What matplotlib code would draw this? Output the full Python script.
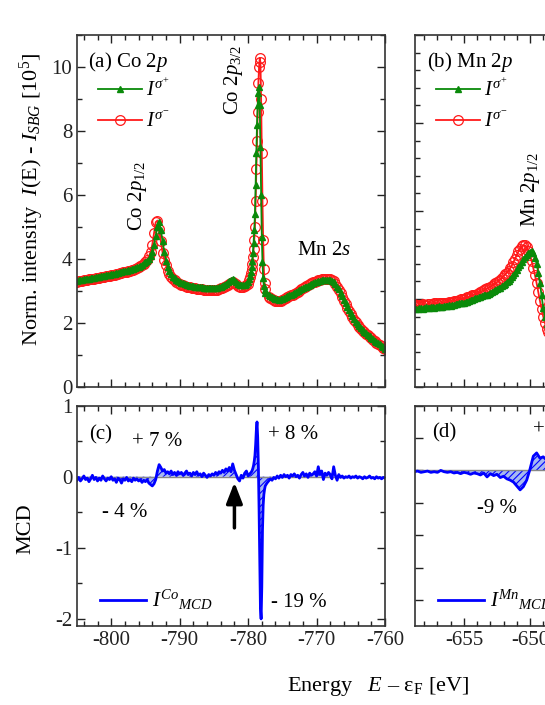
import numpy as np
import matplotlib
matplotlib.use("Agg")
from matplotlib import pyplot as plt
from matplotlib.ticker import MultipleLocator

plt.rcParams['font.family'] = ['Liberation Serif', 'DejaVu Serif']
plt.rcParams['mathtext.fontset'] = 'custom'
plt.rcParams['mathtext.rm'] = 'Liberation Serif'
plt.rcParams['mathtext.it'] = 'Liberation Serif:italic'
plt.rcParams['axes.unicode_minus'] = False
plt.rcParams['hatch.linewidth'] = 0.8

# ---- Co 2p spectra, panel (a) ----
e_co = np.concatenate([np.linspace(-805, -780, 101),
                       np.linspace(-779.8, -777.5, 24),
                       np.linspace(-777, -760, 69)])
co_plus = [3.32, 3.33, 3.34, 3.35, 3.36, 3.37, 3.38, 3.39, 3.40, 3.41,
           3.42, 3.43, 3.44, 3.45, 3.46, 3.47, 3.48, 3.49, 3.50, 3.51,
           3.52, 3.53, 3.54, 3.56, 3.57, 3.58, 3.59, 3.61, 3.62, 3.63,
           3.65, 3.66, 3.68, 3.70, 3.72, 3.74, 3.76, 3.79, 3.82, 3.86,
           3.90, 3.94, 4.00, 4.08, 4.22, 4.45, 4.72, 5.00, 5.15, 4.90,
           4.55, 4.22, 3.95, 3.76, 3.62, 3.52, 3.45, 3.40, 3.35, 3.31,
           3.28, 3.26, 3.24, 3.22, 3.20, 3.18, 3.17, 3.16, 3.15, 3.14,
           3.13, 3.12, 3.12, 3.11, 3.10, 3.09, 3.09, 3.08, 3.08, 3.08,
           3.08, 3.09, 3.10, 3.12, 3.14, 3.17, 3.20, 3.23, 3.27, 3.31,
           3.35, 3.37, 3.33, 3.27, 3.22, 3.19, 3.18, 3.19, 3.20, 3.23,
           3.27,
           3.38, 3.48, 3.60, 3.75, 3.95, 4.20, 4.50, 4.90, 5.40, 6.30,
           7.30, 8.20, 8.80, 9.20, 9.38, 8.80, 7.50, 6.00, 4.70, 3.90,
           3.40, 3.15, 3.02, 2.95,
           2.87, 2.83, 2.80, 2.77, 2.75, 2.74, 2.73, 2.74, 2.76, 2.78,
           2.81, 2.83, 2.86, 2.88, 2.91, 2.93, 2.96, 2.99, 3.02, 3.05,
           3.08, 3.11, 3.14, 3.17, 3.20, 3.23, 3.25, 3.27, 3.29, 3.31,
           3.32, 3.33, 3.34, 3.35, 3.35, 3.35, 3.34, 3.32, 3.28, 3.22,
           3.14, 3.05, 2.94, 2.83, 2.72, 2.61, 2.50, 2.40, 2.30, 2.21,
           2.12, 2.04, 1.97, 1.90, 1.84, 1.78, 1.73, 1.68, 1.63, 1.58,
           1.54, 1.49, 1.45, 1.41, 1.37, 1.33, 1.29, 1.25, 1.20]
co_minus = [3.29, 3.30, 3.31, 3.32, 3.33, 3.34, 3.35, 3.36, 3.37, 3.38,
            3.39, 3.40, 3.41, 3.42, 3.43, 3.44, 3.45, 3.46, 3.47, 3.48,
            3.49, 3.50, 3.51, 3.53, 3.54, 3.55, 3.56, 3.58, 3.59, 3.60,
            3.62, 3.63, 3.65, 3.67, 3.69, 3.71, 3.74, 3.77, 3.80, 3.85,
            3.90, 3.98, 4.08, 4.22, 4.45, 4.80, 5.15, 5.20, 4.95, 4.55,
            4.20, 3.98, 3.80, 3.64, 3.52, 3.44, 3.38, 3.33, 3.28, 3.25,
            3.22, 3.20, 3.18, 3.16, 3.14, 3.12, 3.11, 3.10, 3.09, 3.08,
            3.07, 3.06, 3.06, 3.05, 3.04, 3.03, 3.03, 3.02, 3.02, 3.02,
            3.02, 3.03, 3.04, 3.06, 3.08, 3.10, 3.13, 3.16, 3.19, 3.23,
            3.26, 3.29, 3.26, 3.21, 3.17, 3.14, 3.13, 3.14, 3.15, 3.18,
            3.22,
            3.33, 3.43, 3.55, 3.68, 3.85, 4.05, 4.30, 4.60, 5.00, 5.80,
            6.80, 7.70, 8.60, 9.50, 10.00, 10.28, 10.15, 9.00, 7.30, 5.80,
            4.60, 3.70, 3.25, 3.05,
            2.82, 2.78, 2.74, 2.71, 2.69, 2.68, 2.68, 2.69, 2.71, 2.74,
            2.77, 2.80, 2.83, 2.86, 2.89, 2.92, 2.95, 2.98, 3.01, 3.05,
            3.08, 3.12, 3.15, 3.18, 3.21, 3.24, 3.27, 3.29, 3.31, 3.33,
            3.35, 3.36, 3.37, 3.38, 3.38, 3.37, 3.36, 3.34, 3.30, 3.23,
            3.14, 3.04, 2.93, 2.81, 2.70, 2.59, 2.48, 2.38, 2.28, 2.19,
            2.10, 2.02, 1.95, 1.88, 1.82, 1.76, 1.71, 1.66, 1.61, 1.56,
            1.52, 1.47, 1.43, 1.39, 1.35, 1.31, 1.27, 1.23, 1.18]

# ---- Mn 2p spectra, panel (b) ----
e_mn = np.linspace(-659, -648.5, 85)
mn_plus = [0.90, 0.91, 0.90, 0.89, 0.89, 0.90, 0.90, 0.89, 0.90, 0.91,
           0.90, 0.90, 0.91, 0.91, 0.90, 0.91, 0.91, 0.92, 0.91, 0.91,
           0.92, 0.92, 0.92, 0.93, 0.92, 0.93, 0.93, 0.94, 0.94, 0.95,
           0.95, 0.96, 0.96, 0.97, 0.97, 0.98, 0.99, 0.99, 1.00, 1.01,
           1.01, 1.02, 1.02, 1.03, 1.04, 1.04, 1.05, 1.06, 1.07, 1.08,
           1.09, 1.10, 1.11, 1.12, 1.13, 1.15, 1.16, 1.17, 1.19, 1.21,
           1.23, 1.25, 1.27, 1.30, 1.33, 1.36, 1.39, 1.42, 1.45, 1.48,
           1.50, 1.52, 1.53, 1.54, 1.52, 1.47, 1.40, 1.30, 1.18, 1.04,
           0.90, 0.80, 0.72, 0.66, 0.62]
mn_minus = [0.93, 0.94, 0.94, 0.93, 0.92, 0.93, 0.93, 0.94, 0.93, 0.93,
            0.94, 0.94, 0.93, 0.94, 0.95, 0.95, 0.94, 0.95, 0.95, 0.96,
            0.95, 0.96, 0.96, 0.97, 0.96, 0.97, 0.98, 0.98, 0.98, 0.99,
            1.00, 1.00, 1.00, 1.01, 1.02, 1.02, 1.03, 1.04, 1.05, 1.05,
            1.06, 1.07, 1.08, 1.09, 1.10, 1.11, 1.12, 1.13, 1.14, 1.15,
            1.17, 1.18, 1.19, 1.21, 1.22, 1.24, 1.26, 1.28, 1.30, 1.32,
            1.35, 1.38, 1.42, 1.46, 1.50, 1.54, 1.57, 1.60, 1.61, 1.61,
            1.59, 1.55, 1.50, 1.43, 1.35, 1.27, 1.18, 1.08, 0.98, 0.89,
            0.80, 0.73, 0.66, 0.62, 0.58]

# ---- MCD Co, panel (c) ----
e_mcd_co = np.concatenate([np.linspace(-805, -779.5, 103),
                           np.linspace(-779.4, -777.5, 20),
                           np.linspace(-777.25, -760, 70)])
mcd_co = [-0.05, -0.01, -0.06, -0.03, 0.01, -0.04, -0.02, -0.07, -0.03, 0.02,
          -0.04, -0.01, -0.06, -0.02, -0.05, 0.01, -0.03, -0.06, -0.02, -0.04,
          0.00, -0.05, -0.03, -0.08, -0.02, -0.04, -0.09, -0.03, -0.05, -0.01,
          -0.06, -0.04, -0.07, -0.02, -0.05, -0.03, -0.06, -0.04, -0.08, -0.05,
          -0.07, -0.04, -0.09, -0.11, -0.13, -0.10, -0.04, 0.08, 0.17, 0.13,
          0.08, 0.10, 0.05, 0.07, 0.04, 0.08, 0.03, 0.06, 0.02, 0.07,
          0.04, 0.06, 0.02, 0.05, 0.08, 0.03, 0.05, 0.01, 0.06, 0.03,
          0.07, 0.02, 0.04, 0.00, 0.05, 0.02, -0.01, 0.03, 0.01, 0.04,
          0.02, 0.06, 0.03, 0.07, 0.05, 0.09, 0.06, 0.11, 0.08, 0.13,
          0.07, 0.18, 0.09, 0.03, -0.03, -0.06, 0.02, -0.02, 0.05, 0.08,
          0.01, 0.04, 0.07,
          0.09, 0.12, 0.16, 0.22, 0.30, 0.45, 0.65, 0.77, 0.55, 0.15,
          -0.45, -1.20, -1.85, -2.00, -1.55, -0.75, -0.40, -0.25, -0.18, -0.13,
          -0.09, -0.06, -0.03, -0.05, -0.01, -0.03, 0.01, -0.02, 0.02, -0.01,
          0.03, 0.00, 0.02, -0.02, 0.03, 0.01, 0.04, 0.00, 0.02, -0.02,
          0.03, 0.06, 0.01, 0.04, -0.01, 0.05, 0.02, 0.04, 0.07, 0.01,
          0.14, 0.03, 0.08, -0.04, 0.05, 0.02, 0.06, 0.03, -0.03, 0.14,
          0.02, -0.05, 0.03, -0.01, 0.01, -0.02, 0.00, -0.01, 0.01, -0.02,
          0.00, -0.01, 0.01, -0.02, 0.00, -0.01, -0.03, 0.00, -0.02, -0.01,
          0.01, -0.02, -0.01, -0.03, 0.00, -0.02, -0.01, -0.03, -0.01, -0.02]

# ---- MCD Mn, panel (d) ----
e_mcd_mn = np.linspace(-658.75, -648.5, 42)
mcd_mn = [-0.02, -0.01, -0.03, -0.02, -0.01, -0.03, -0.02, -0.03, 0.00, -0.02,
          -0.03, -0.02, -0.04, -0.03, -0.05, -0.03, -0.04, -0.06, -0.04, -0.05,
          -0.07, -0.04, -0.10, -0.05, -0.08, -0.06, -0.11, -0.09, -0.13, -0.15,
          -0.18, -0.24, -0.30, -0.25, -0.15, 0.02, 0.22, 0.27, 0.19, 0.21,
          0.16, 0.18]

GREEN = '#0a8a0a'
RED = '#ff1a1a'
BLUE = '#0000ff'
W, H = 545.0, 705.0

fig = plt.figure(figsize=(5.45, 7.05), dpi=100)
ax_a = fig.add_axes([77 / W, 318 / H, 308 / W, 352 / H])
ax_b = fig.add_axes([415 / W, 318 / H, 308 / W, 352 / H])
ax_c = fig.add_axes([77 / W, 79 / H, 308 / W, 220.4 / H])
ax_d = fig.add_axes([415 / W, 79 / H, 308 / W, 220.4 / H])


def style(ax):
    ax.tick_params(which='both', direction='in', top=True, right=True,
                   labelsize=15, width=1.0, colors='#222222')
    ax.tick_params(which='major', length=6)
    ax.tick_params(which='minor', length=3.5)
    for s in ax.spines.values():
        s.set_linewidth(1.2)
        s.set_color('#333333')


def spectra(ax, e, plus, minus):
    ax.plot(e, minus, '-o', color=RED, mfc='none', ms=7, mew=0.9, lw=1.3, label=r'$I^{\sigma^{-}}$')
    ax.plot(e, plus, '-^', color=GREEN, ms=4.0, lw=1.3, label=r'$I^{\sigma^{+}}$')
    h, l = ax.get_legend_handles_labels()
    ax.legend(h[::-1], l[::-1], loc='upper left', bbox_to_anchor=(0.035, 0.905), frameon=False,
              fontsize=15, handlelength=2.1, handletextpad=0.2, labelspacing=0.55, borderpad=0)


# panel (a)
spectra(ax_a, e_co, co_plus, co_minus)
ax_a.set_xlim(-805, -760)
ax_a.set_ylim(0, 11)
ax_a.xaxis.set_major_locator(MultipleLocator(10))
ax_a.xaxis.set_minor_locator(MultipleLocator(2))
ax_a.yaxis.set_major_locator(MultipleLocator(2))
ax_a.yaxis.set_minor_locator(MultipleLocator(1))
ax_a.tick_params(labelbottom=False)
style(ax_a)
ax_a.text(0.036, 0.923, r'(a) Co $\mathit{2p}$', transform=ax_a.transAxes, fontsize=15, va='center')
ax_a.text(-796.2, 5.97, r'Co $\mathit{2p}_{\mathit{1/2}}$', rotation=90, fontsize=15, ha='center', va='center')
ax_a.text(-782.2, 9.6, r'Co $\mathit{2p}_{\mathit{3/2}}$', rotation=90, fontsize=15, ha='center', va='center')
ax_a.text(-772.9, 4.28, r'Mn $\mathit{2s}$', fontsize=15, va='center')

# panel (b)
spectra(ax_b, e_mn, mn_plus, mn_minus)
ax_b.set_xlim(-658.7, -635.4)
ax_b.set_ylim(0, 4)
ax_b.xaxis.set_major_locator(MultipleLocator(5))
ax_b.xaxis.set_minor_locator(MultipleLocator(1))
ax_b.yaxis.set_major_locator(MultipleLocator(1))
ax_b.yaxis.set_minor_locator(MultipleLocator(0.2))
ax_b.tick_params(labelbottom=False, labelleft=False)
style(ax_b)
ax_b.text(0.039, 0.923, r'(b) Mn $\mathit{2p}$', transform=ax_b.transAxes, fontsize=15, va='center')
ax_b.text(-650.0, 2.24, r'Mn $\mathit{2p}_{\mathit{1/2}}$', rotation=90, fontsize=15, ha='center', va='center')


def mcd(ax, e, v, label):
    ax.fill_between(e, v, 0, facecolor='#a6b8f2', edgecolor=BLUE, hatch='/////', lw=0)
    ax.axhline(0, color='#888888', lw=1.0)
    ax.plot(e, v, color=BLUE, lw=2.0, label=label)
    ax.legend(loc='lower left', bbox_to_anchor=(0.04, 0.015), frameon=False, fontsize=15,
              handlelength=2.2, handletextpad=0.3, borderpad=0)


# panel (c)
mcd(ax_c, e_mcd_co, mcd_co, r'$I^{Co}{}_{MCD}$')
ax_c.set_xlim(-805, -760)
ax_c.set_ylim(-2.1, 1.0)
ax_c.xaxis.set_major_locator(MultipleLocator(10))
ax_c.xaxis.set_minor_locator(MultipleLocator(2))
ax_c.yaxis.set_major_locator(MultipleLocator(1))
ax_c.yaxis.set_minor_locator(MultipleLocator(0.5))
style(ax_c)
ax_c.text(-803.25, 0.59, '(c)', fontsize=15, va='center')
ax_c.text(-797.0, 0.49, '+ 7 %', fontsize=15, va='center')
ax_c.text(-801.3, -0.51, '- 4 %', fontsize=15, va='center')
ax_c.text(-777.1, 0.6, '+ 8 %', fontsize=15, va='center')
ax_c.text(-776.7, -1.77, '- 19 %', fontsize=15, va='center')
ax_c.annotate('', xy=(-782.0, -0.08), xytext=(-782.0, -0.72),
              arrowprops=dict(arrowstyle='-|>,head_width=0.35,head_length=0.9',
                              color='black', lw=2.5, mutation_scale=14, shrinkA=0, shrinkB=0))

# panel (d)
mcd(ax_d, e_mcd_mn, mcd_mn, r'$I^{Mn}{}_{MCD}$')
ax_d.set_xlim(-658.7, -635.4)
ax_d.set_ylim(-2.4, 1.0)
ax_d.xaxis.set_major_locator(MultipleLocator(5))
ax_d.xaxis.set_minor_locator(MultipleLocator(1))
ax_d.yaxis.set_major_locator(MultipleLocator(0.5))
ax_d.tick_params(labelleft=False)
style(ax_d)
ax_d.text(-657.4, 0.58, '(d)', fontsize=15, va='center')
ax_d.text(-649.76, 0.62, '+', fontsize=15, va='center')
ax_d.text(-654.0, -0.58, '-9 %', fontsize=15, va='center')

# axis labels
fig.text(32 / W, 1 - 199 / H, r'Norm. intensity  $I$(E) - $I_{SBG}$ [10$^5$]',
         rotation=90, ha='center', va='center', fontsize=16)
fig.text(26 / W, 1 - 529 / H, 'MCD', rotation=90, ha='center', va='center', fontsize=16)
fig.text(378 / W, 1 - 686 / H, r'Energy   $E$ – ε$_{\mathrm{F}}$ [eV]',
         ha='center', va='center', fontsize=16)

plt.savefig('out.png', dpi=100)
